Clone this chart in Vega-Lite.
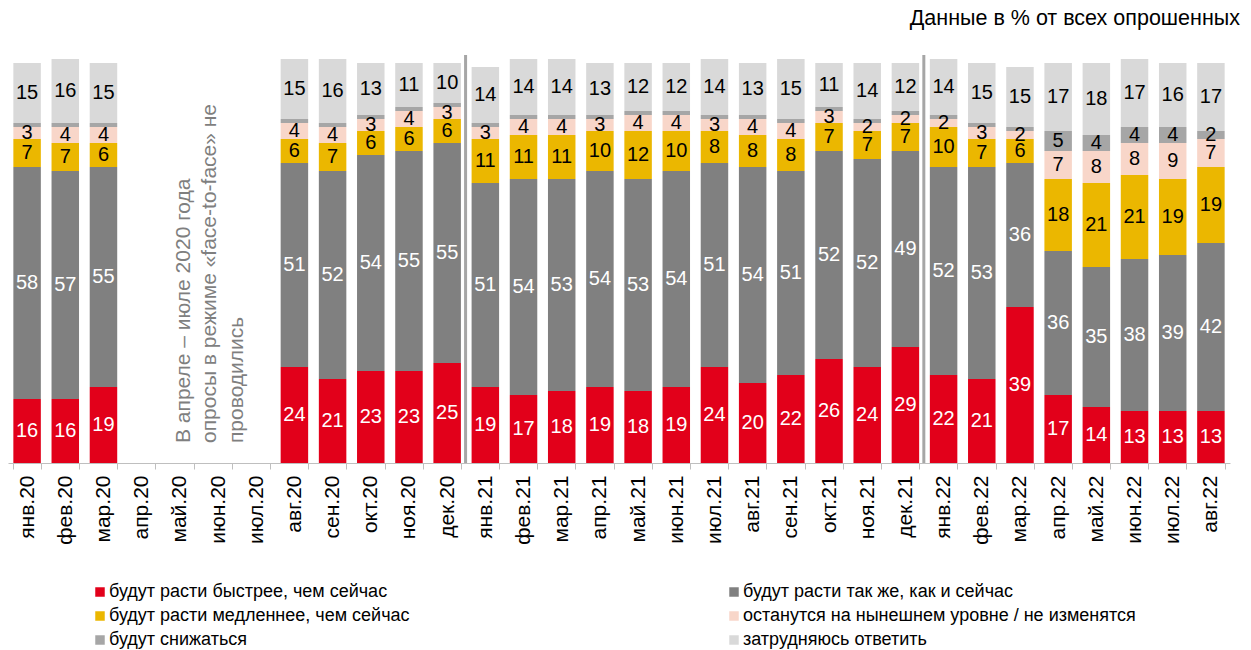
{
  "$schema": "https://vega.github.io/schema/vega-lite/v6.json",
  "autosize": "none",
  "width": 1222,
  "height": 410,
  "padding": {"left": 8, "top": 53, "right": 21, "bottom": 187},
  "background": "white",
  "config": {
    "font": "Liberation Sans",
    "view": {"stroke": null},
    "axis": {"labelFont": "Liberation Sans"},
    "legend": {"labelFont": "Liberation Sans"}
  },
  "title": {
    "text": "Данные в % от всех опрошенных",
    "anchor": "end",
    "frame": "group",
    "fontSize": 21.5,
    "fontWeight": "normal",
    "color": "#000000",
    "offset": 24,
    "dx": 10
  },
  "datasets": {
    "cats": [
      {"key": "a", "cat": "будут расти быстрее, чем сейчас"},
      {"key": "b", "cat": "будут расти так же, как и сейчас"},
      {"key": "c", "cat": "будут расти медленнее, чем сейчас"},
      {"key": "d", "cat": "останутся на нынешнем уровне / не изменятся"},
      {"key": "e", "cat": "будут снижаться"},
      {"key": "f", "cat": "затрудняюсь ответить"}
    ],
    "main": [
      {"m": "янв.20", "a": 16, "b": 58, "c": 7, "d": 3, "e": 1, "f": 15},
      {"m": "фев.20", "a": 16, "b": 57, "c": 7, "d": 4, "e": 1, "f": 16},
      {"m": "мар.20", "a": 19, "b": 55, "c": 6, "d": 4, "e": 1, "f": 15},
      {"m": "авг.20", "a": 24, "b": 51, "c": 6, "d": 4, "e": 1, "f": 15},
      {"m": "сен.20", "a": 21, "b": 52, "c": 7, "d": 4, "e": 1, "f": 16},
      {"m": "окт.20", "a": 23, "b": 54, "c": 6, "d": 3, "e": 1, "f": 13},
      {"m": "ноя.20", "a": 23, "b": 55, "c": 6, "d": 4, "e": 1, "f": 11},
      {"m": "дек.20", "a": 25, "b": 55, "c": 6, "d": 3, "e": 1, "f": 10},
      {"m": "янв.21", "a": 19, "b": 51, "c": 11, "d": 3, "e": 1, "f": 14},
      {"m": "фев.21", "a": 17, "b": 54, "c": 11, "d": 4, "e": 1, "f": 14},
      {"m": "мар.21", "a": 18, "b": 53, "c": 11, "d": 4, "e": 1, "f": 14},
      {"m": "апр.21", "a": 19, "b": 54, "c": 10, "d": 3, "e": 1, "f": 13},
      {"m": "май.21", "a": 18, "b": 53, "c": 12, "d": 4, "e": 1, "f": 12},
      {"m": "июн.21", "a": 19, "b": 54, "c": 10, "d": 4, "e": 1, "f": 12},
      {"m": "июл.21", "a": 24, "b": 51, "c": 8, "d": 3, "e": 1, "f": 14},
      {"m": "авг.21", "a": 20, "b": 54, "c": 8, "d": 4, "e": 1, "f": 13},
      {"m": "сен.21", "a": 22, "b": 51, "c": 8, "d": 4, "e": 1, "f": 15},
      {"m": "окт.21", "a": 26, "b": 52, "c": 7, "d": 3, "e": 1, "f": 11},
      {"m": "ноя.21", "a": 24, "b": 52, "c": 7, "d": 2, "e": 1, "f": 14},
      {"m": "дек.21", "a": 29, "b": 49, "c": 7, "d": 2, "e": 1, "f": 12},
      {"m": "янв.22", "a": 22, "b": 52, "c": 10, "d": 2, "e": 1, "f": 14},
      {"m": "фев.22", "a": 21, "b": 53, "c": 7, "d": 3, "e": 1, "f": 15},
      {"m": "мар.22", "a": 39, "b": 36, "c": 6, "d": 2, "e": 1, "f": 15},
      {"m": "апр.22", "a": 17, "b": 36, "c": 18, "d": 7, "e": 5, "f": 17},
      {"m": "май.22", "a": 14, "b": 35, "c": 21, "d": 8, "e": 4, "f": 18},
      {"m": "июн.22", "a": 13, "b": 38, "c": 21, "d": 8, "e": 4, "f": 17},
      {"m": "июл.22", "a": 13, "b": 39, "c": 19, "d": 9, "e": 4, "f": 16},
      {"m": "авг.22", "a": 13, "b": 42, "c": 19, "d": 7, "e": 2, "f": 17}
    ]
  },
  "layer": [
    {
      "data": {"name": "main"},
      "transform": [
        {"fold": ["a", "b", "c", "d", "e", "f"], "as": ["key", "v"]},
        {"lookup": "key", "from": {"data": {"name": "cats"}, "key": "key", "fields": ["cat"]}}
      ],
      "mark": {"type": "bar"},
      "encoding": {
        "x": {
          "field": "m", "type": "nominal", "title": null,
          "scale": {
            "domain": ["янв.20","фев.20","мар.20","апр.20","май.20","июн.20","июл.20","авг.20","сен.20","окт.20","ноя.20","дек.20","янв.21","фев.21","мар.21","апр.21","май.21","июн.21","июл.21","авг.21","сен.21","окт.21","ноя.21","дек.21","янв.22","фев.22","мар.22","апр.22","май.22","июн.22","июл.22","авг.22"],
            "paddingInner": 0.28, "paddingOuter": 0.14
          },
          "axis": {
            "labelAngle": 270, "labelFontSize": 21, "labelColor": "#000000",
            "domainColor": "#bfbfbf", "tickColor": "#bfbfbf", "tickSize": 6,
            "tickBand": "extent", "labelPadding": 6, "grid": false
          }
        },
        "y": {
          "field": "v", "type": "quantitative", "stack": "zero",
          "scale": {"domain": [0, 102.5], "nice": false},
          "axis": null
        },
        "order": {"field": "key", "sort": "ascending"},
        "color": {
          "field": "cat", "type": "nominal",
          "scale": {
            "domain": ["будут расти быстрее, чем сейчас", "будут расти так же, как и сейчас", "будут расти медленнее, чем сейчас", "останутся на нынешнем уровне / не изменятся", "будут снижаться", "затрудняюсь ответить"],
            "range": ["#e2001a", "#808080", "#ebb700", "#f8d6c9", "#a6a6a6", "#d9d9d9"]
          },
          "legend": {
            "title": null, "orient": "none", "legendX": 83, "legendY": 530,
            "direction": "horizontal",
            "columns": 2, "columnPadding": 315, "rowPadding": 6,
            "symbolType": "square", "symbolSize": 90, "symbolStrokeWidth": 0,
            "labelFontSize": 18, "labelColor": "#000000", "labelOffset": 0,
            "labelLimit": 700, "padding": 0
          }
        }
      }
    },
    {
      "data": {"name": "main"},
      "transform": [
        {"fold": ["a", "b", "c", "d", "e", "f"], "as": ["key", "v"]},
        {"lookup": "key", "from": {"data": {"name": "cats"}, "key": "key", "fields": ["cat"]}}
      ],
      "mark": {"type": "text", "fontSize": 20, "baseline": "middle", "align": "center"},
      "encoding": {
        "x": {"field": "m", "type": "nominal"},
        "y": {"field": "v", "type": "quantitative", "stack": "zero", "bandPosition": 0.5},
        "order": {"field": "key", "sort": "ascending"},
        "detail": {"field": "cat"},
        "text": {"condition": {"test": "datum.key === 'e' && datum.v < 2", "value": ""}, "field": "v", "type": "quantitative"},
        "color": {
          "condition": {"test": "datum.key === 'a' || datum.key === 'b'", "value": "#ffffff"},
          "value": "#000000"
        }
      }
    },
    {
      "data": {"values": [{"m": "дек.20"}, {"m": "дек.21"}]},
      "mark": {"type": "rule", "color": "#a6a6a6", "strokeWidth": 3},
      "encoding": {
        "x": {"field": "m", "type": "nominal", "bandPosition": 1.17},
        "y": {"datum": 0},
        "y2": {"datum": 102}
      }
    },
    {
      "data": {"values": [{"m": "май.20", "v": 5, "t": ["В апреле – июле 2020 года", "опросы в режиме «face-to-face» не", "проводились"]}]},
      "mark": {"type": "text", "angle": 270, "align": "left", "baseline": "middle", "fontSize": 21, "lineHeight": 26.5, "color": "#7f7f7f"},
      "encoding": {
        "x": {"field": "m", "type": "nominal", "bandPosition": 0.65},
        "y": {"field": "v", "type": "quantitative"},
        "text": {"field": "t"}
      }
    }
  ]
}
